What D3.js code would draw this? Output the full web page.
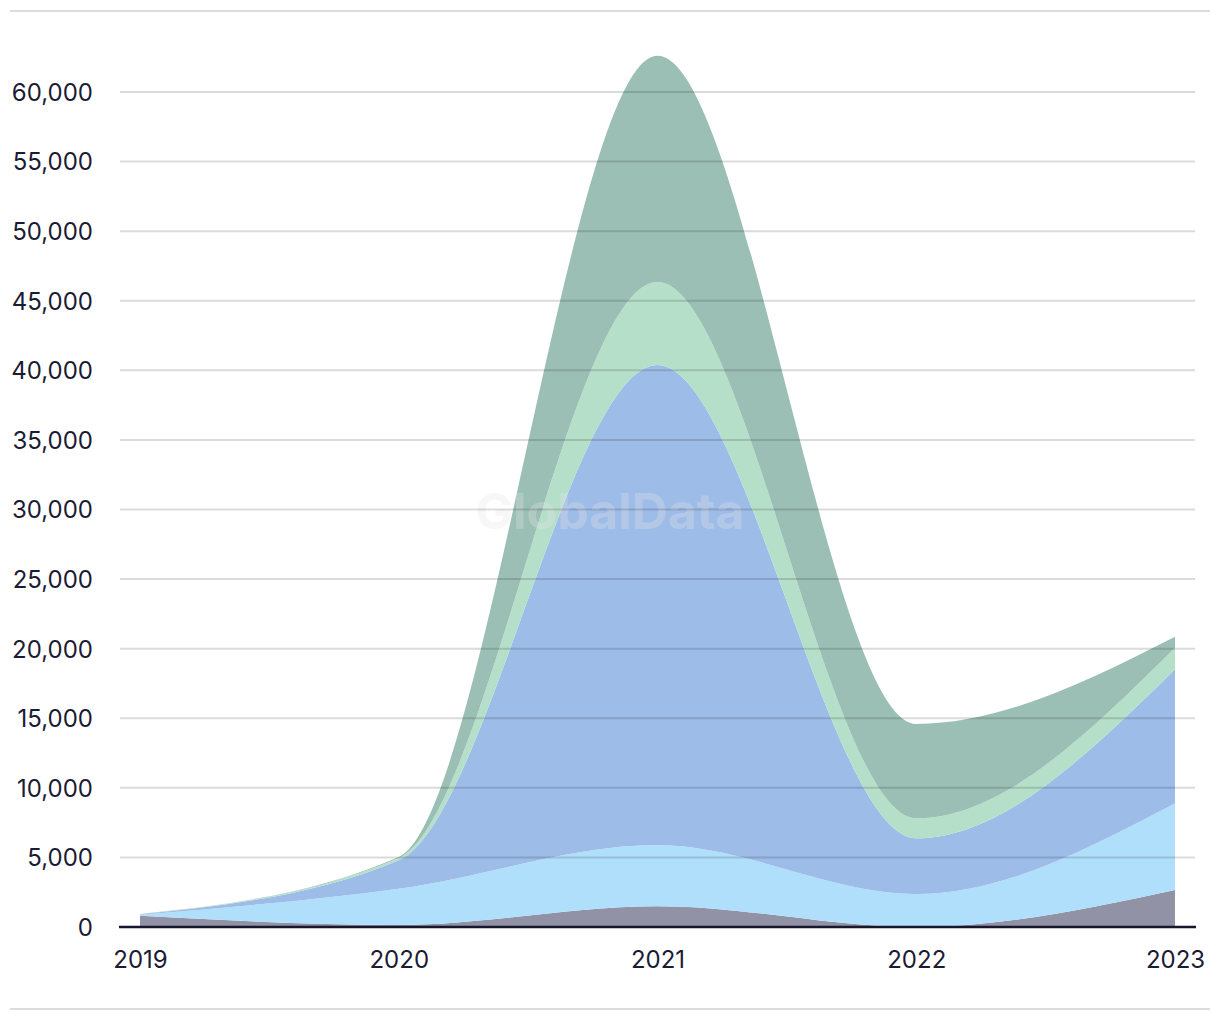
<!DOCTYPE html>
<html>
<head>
<meta charset="utf-8">
<script src="https://cdn.jsdelivr.net/npm/d3@7"></script>
<style>
  html, body { margin: 0; padding: 0; background: #fff; }
  svg { display: block; }
</style>
</head>
<body>
<svg id="chart" width="1220" height="1020"></svg>
<script>
const years = [2019, 2020, 2021, 2022, 2023];
const seriesNames = ["s1", "s2", "s3", "s4", "s5"];
const s1 = [800, 150, 1500, 0, 2660];
const s2 = [80, 2600, 4400, 2370, 6230];
const s3 = [30, 2050, 34490, 4000, 9630];
const s4 = [10, 150, 5950, 1440, 1550];
const s5 = [10, 80, 16260, 6780, 790];
const colors = ["#9192a5", "#b0dffb", "#9ebce8", "#b6dfca", "#9bbfb4"];
const yTicks = [0, 5000, 10000, 15000, 20000, 25000, 30000, 35000, 40000, 45000, 50000, 55000, 60000];

const svg = d3.select("#chart");

const rows = years.map((y, i) => ({year: y, s1: s1[i], s2: s2[i], s3: s3[i], s4: s4[i], s5: s5[i]}));
const stack = d3.stack().keys(seriesNames)(rows);

const x = d3.scaleLinear().domain([2019, 2023]).range([140, 1175]);
const y = d3.scaleLinear().domain([0, 60000]).range([927, 92]);

// separators
svg.append("line").attr("x1", 10).attr("x2", 1210).attr("y1", 11).attr("y2", 11)
  .attr("stroke", "#dcdcdc").attr("stroke-width", 2);
svg.append("line").attr("x1", 10).attr("x2", 1210).attr("y1", 1009).attr("y2", 1009)
  .attr("stroke", "#dcdcdc").attr("stroke-width", 2);

const area = d3.area()
  .x(d => x(d.data.year))
  .y0(d => y(d[0]))
  .y1(d => y(d[1]))
  .curve(d3.curveMonotoneX);

svg.append("g").selectAll("path").data(stack).join("path")
  .attr("d", area)
  .attr("fill", (d, i) => colors[i]);

// watermark
svg.append("text").attr("x", 610).attr("y", 529)
  .attr("text-anchor", "middle")
  .attr("font-family", "Inter, 'Liberation Sans', sans-serif")
  .attr("font-weight", 700).attr("font-size", 50)
  .attr("fill", "#e4e4e4").attr("fill-opacity", 0.3)
  .text("GlobalData");

// grid
const yAxis = d3.axisLeft(y).tickValues(yTicks).tickSize(0).tickPadding(0)
  .tickFormat(d3.format(","));
const grid = svg.append("g");
grid.selectAll("line").data(yTicks.filter(t => t > 0)).join("line")
  .attr("x1", 120).attr("x2", 1195)
  .attr("y1", d => y(d)).attr("y2", d => y(d))
  .attr("stroke", "#000").attr("stroke-opacity", 0.14).attr("stroke-width", 2);

// y labels
const gy = svg.append("g").attr("transform", "translate(93,0)").call(yAxis);
gy.select(".domain").remove();
gy.selectAll("text")
  .attr("font-family", "Inter, 'Liberation Sans', sans-serif")
  .attr("font-size", 24).attr("fill", "#1b1b33").attr("dy", "0.35em");

// baseline
svg.append("line").attr("x1", 119).attr("x2", 1196).attr("y1", y(0)).attr("y2", y(0))
  .attr("stroke", "#16162c").attr("stroke-width", 2.5);

// x labels
const xAxis = d3.axisBottom(x).tickValues(years).tickSize(0).tickPadding(0).tickFormat(d3.format("d"));
const gx = svg.append("g").attr("transform", "translate(0,951)").call(xAxis);
gx.select(".domain").remove();
gx.selectAll("text")
  .attr("font-family", "Inter, 'Liberation Sans', sans-serif")
  .attr("font-size", 24).attr("fill", "#1b1b33").attr("dy", "0.71em");
</script>
</body>
</html>
